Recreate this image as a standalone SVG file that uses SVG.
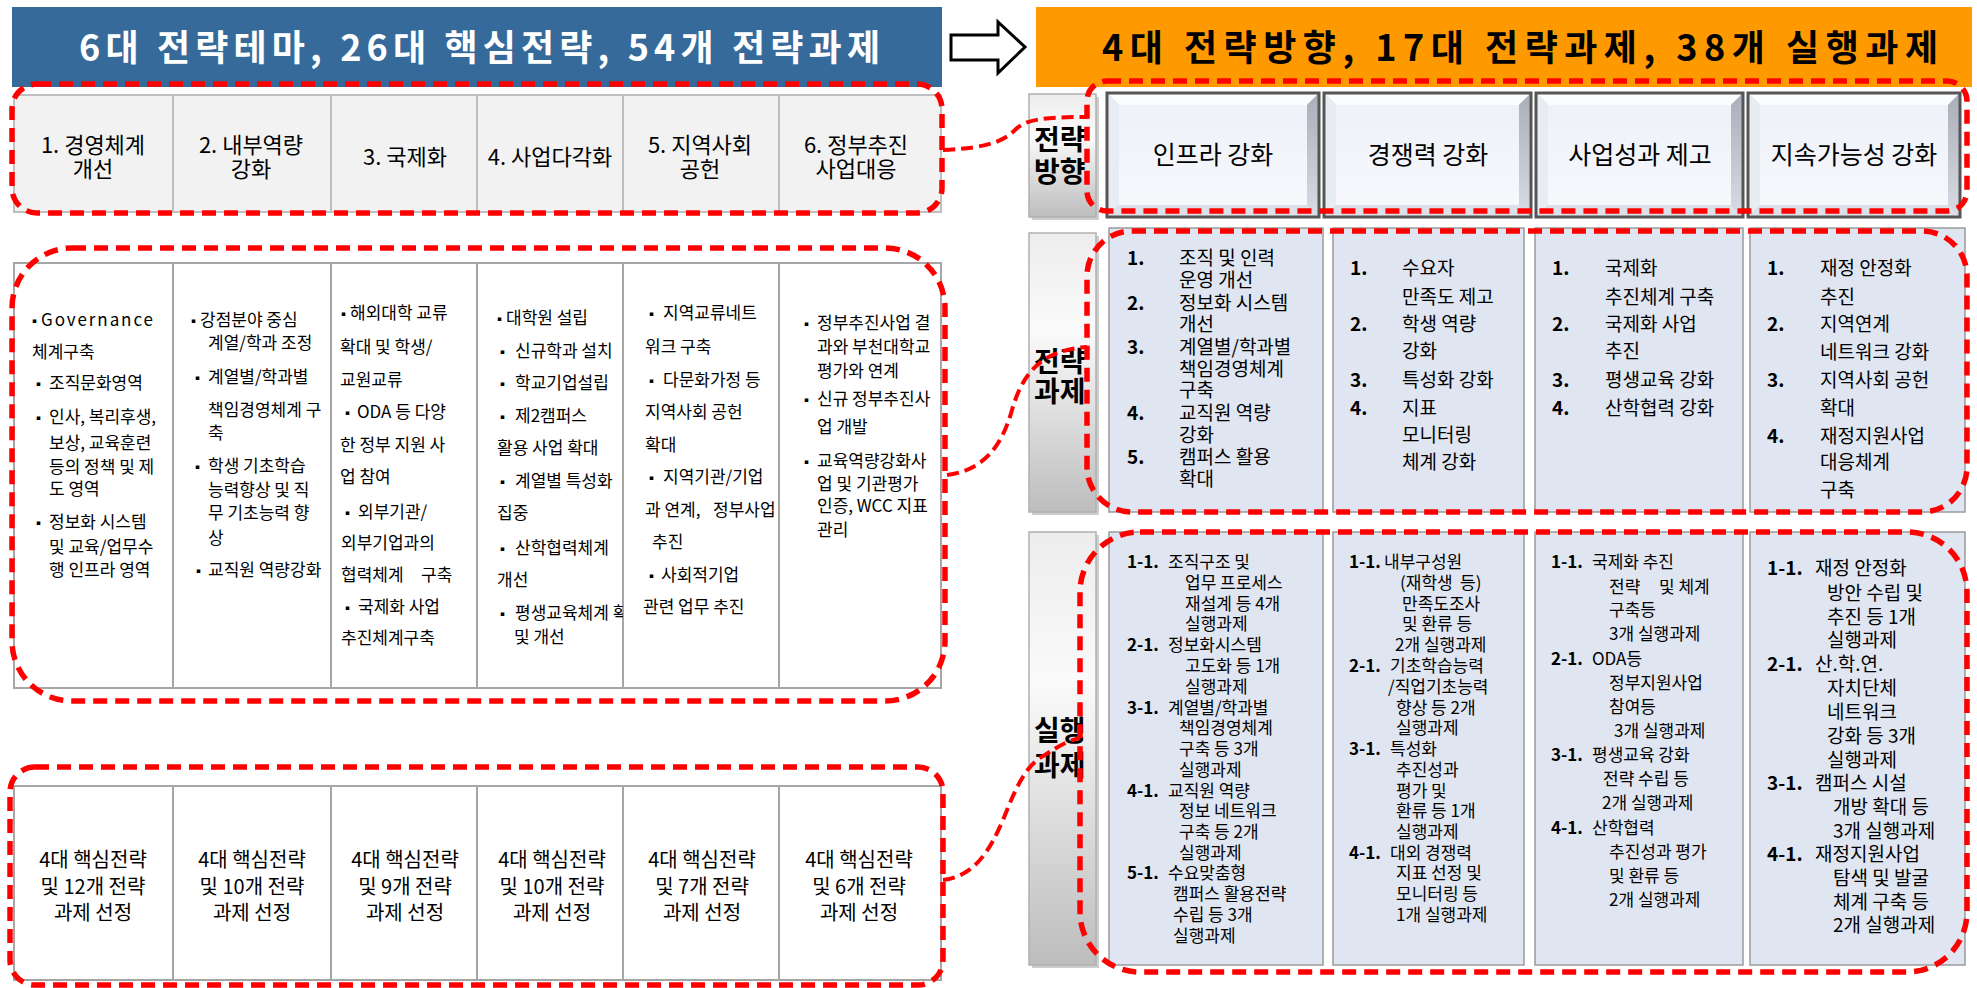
<svg xmlns="http://www.w3.org/2000/svg" width="1977" height="988" viewBox="0 0 1977 988">
<defs>
<style>
text{font-family:"Noto Sans CJK KR","Noto Sans",sans-serif;fill:#000}
.title{font-size:36px;font-weight:bold}
.theme{font-size:22px;text-anchor:middle}
.mid{font-size:17px}
.bul{font-size:13px}
.bot{font-size:20px;text-anchor:middle}
.lbl{font-size:28px;font-weight:bold}
.hdr{font-size:25px;text-anchor:middle}
.num{font-weight:bold}
.st{font-size:19px}
.ex{font-size:17px}
.ex4{font-size:19px}
.hl{fill:none;stroke:#FF0000;stroke-width:5.5;stroke-dasharray:14 8;stroke-linecap:butt}
.conn{fill:none;stroke:#FF0000;stroke-width:4;stroke-dasharray:12 6}
.cellL{fill:#F2F2F2;stroke:#BFBFBF;stroke-width:2}
.tbl{fill:#FFFFFF;stroke:#A6A6A6;stroke-width:2}
.div{stroke:#A6A6A6;stroke-width:2}
.cellB{fill:#DFE5F1;stroke:#9A9A9A;stroke-width:1.5}
.lab{fill:url(#labG);stroke:#B0B0B0;stroke-width:1.5}
.labS{fill:#9E9E9E;opacity:0.5}
.bvT{fill:#FBFCFE}
.bvL{fill:#E8ECF3}
.bvR{fill:url(#bvRG)}
.bvB{fill:#DCE0E8}
.face{fill:url(#faceG)}
.frame{fill:none;stroke:#555555;stroke-width:3}
</style>
<linearGradient id="labG" x1="0" y1="0" x2="0" y2="1">
<stop offset="0" stop-color="#EDEDED"/>
<stop offset="0.35" stop-color="#FAFAFA"/>
<stop offset="1" stop-color="#BDBDBD"/>
</linearGradient>
<linearGradient id="faceG" x1="0" y1="0" x2="0" y2="1">
<stop offset="0" stop-color="#EEF1F8"/>
<stop offset="1" stop-color="#F6F8FC"/>
</linearGradient>
<linearGradient id="bvRG" x1="0" y1="0" x2="0" y2="1">
<stop offset="0" stop-color="#A9AEB8"/>
<stop offset="1" stop-color="#D8DCE4"/>
</linearGradient>
<clipPath id="clip4"><rect x="477" y="263" width="146" height="425"/></clipPath>
</defs>

<!-- Title bars -->
<g id="left-title">
<rect x="12" y="7" width="930" height="80" fill="#366A9A"/>
<text class="title" x="79" y="61" textLength="801" lengthAdjust="spacing" style="fill:#FFFFFF">6대 전략테마, 26대 핵심전략, 54개 전략과제</text>
</g>
<g id="transition-arrow">
<polygon points="951,35 998,35 998,22 1025,47 998,73 998,60 951,60" fill="#FFFFFF" stroke="#000000" stroke-width="3" stroke-linejoin="miter"/>
</g>
<g id="right-title">
<rect x="1036" y="7" width="936" height="80" fill="#FF9900"/>
<text class="title" x="1102" y="61" textLength="836" lengthAdjust="spacing">4대 전략방향, 17대 전략과제, 38개 실행과제</text>
</g>

<!-- Left: 6 strategic themes -->
<g id="themes">
<g id="theme-1"><rect class="cellL" x="14" y="95" width="159" height="117"/><text class="theme" x="93" y="153">1. 경영체계</text><text class="theme" x="93" y="177">개선</text></g>
<g id="theme-2"><rect class="cellL" x="173" y="95" width="158" height="117"/><text class="theme" x="251" y="153">2. 내부역량</text><text class="theme" x="251" y="177">강화</text></g>
<g id="theme-3"><rect class="cellL" x="331" y="95" width="146" height="117"/><text class="theme" x="405" y="165">3. 국제화</text></g>
<g id="theme-4"><rect class="cellL" x="477" y="95" width="146" height="117"/><text class="theme" x="550" y="165">4. 사업다각화</text></g>
<g id="theme-5"><rect class="cellL" x="623" y="95" width="156" height="117"/><text class="theme" x="700" y="153">5. 지역사회</text><text class="theme" x="700" y="177">공헌</text></g>
<g id="theme-6"><rect class="cellL" x="779" y="95" width="162" height="117"/><text class="theme" x="856" y="153">6. 정부추진</text><text class="theme" x="856" y="177">사업대응</text></g>
</g>

<!-- Left: 26 core strategies table -->
<g id="core-strategies">
<rect class="tbl" x="14" y="263" width="927" height="425"/>
<line class="div" x1="173" y1="263" x2="173" y2="688"/>
<line class="div" x1="331" y1="263" x2="331" y2="688"/>
<line class="div" x1="477" y1="263" x2="477" y2="688"/>
<line class="div" x1="623" y1="263" x2="623" y2="688"/>
<line class="div" x1="779" y1="263" x2="779" y2="688"/>
<g id="core-1">
<text class="mid" y="326"><tspan class="bul" x="28">▪</tspan><tspan x="41" textLength="112" lengthAdjust="spacing">Governance</tspan></text>
<text class="mid" x="32" y="358">체계구축</text>
<text class="mid" y="389"><tspan class="bul" x="32">▪</tspan><tspan x="49">조직문화영역</tspan></text>
<text class="mid" y="423"><tspan class="bul" x="32">▪</tspan><tspan x="49">인사, 복리후생,</tspan></text>
<text class="mid" x="49" y="449">보상, 교육훈련</text>
<text class="mid" x="49" y="473">등의 정책 및 제</text>
<text class="mid" x="49" y="495">도 영역</text>
<text class="mid" y="528"><tspan class="bul" x="32">▪</tspan><tspan x="49">정보화 시스템</tspan></text>
<text class="mid" x="49" y="553">및 교육/업무수</text>
<text class="mid" x="49" y="576">행 인프라 영역</text>
</g>
<g id="core-2">
<text class="mid" y="326"><tspan class="bul" x="187">▪</tspan><tspan x="200">강점분야 중심</tspan></text>
<text class="mid" x="208" y="349">계열/학과 조정</text>
<text class="mid" y="383"><tspan class="bul" x="191">▪</tspan><tspan x="208">계열별/학과별</tspan></text>
<text class="mid" x="208" y="416">책임경영체계 구</text>
<text class="mid" x="208" y="439">축</text>
<text class="mid" y="472"><tspan class="bul" x="191">▪</tspan><tspan x="208">학생 기초학습</tspan></text>
<text class="mid" x="208" y="496">능력향상 및 직</text>
<text class="mid" x="208" y="519">무 기초능력 향</text>
<text class="mid" x="208" y="544">상</text>
<text class="mid" y="576"><tspan class="bul" x="192">▪</tspan><tspan x="208">교직원 역량강화</tspan></text>
</g>
<g id="core-3">
<text class="mid" y="319"><tspan class="bul" x="337">▪</tspan><tspan x="350">해외대학 교류</tspan></text>
<text class="mid" x="340" y="353">확대 및 학생/</text>
<text class="mid" x="340" y="386">교원교류</text>
<text class="mid" y="418"><tspan class="bul" x="341">▪</tspan><tspan x="357">ODA 등 다양</tspan></text>
<text class="mid" x="340" y="451">한 정부 지원 사</text>
<text class="mid" x="340" y="483">업 참여</text>
<text class="mid" y="518"><tspan class="bul" x="341">▪</tspan><tspan x="358">외부기관/</tspan></text>
<text class="mid" x="341" y="549">외부기업과의</text>
<text class="mid" x="341" y="581">협력체계<tspan x="421">구축</tspan></text>
<text class="mid" y="613"><tspan class="bul" x="341">▪</tspan><tspan x="358">국제화 사업</tspan></text>
<text class="mid" x="341" y="644">추진체계구축</text>
</g>
<g id="core-4" clip-path="url(#clip4)">
<text class="mid" y="324"><tspan class="bul" x="493">▪</tspan><tspan x="506">대학원 설립</tspan></text>
<text class="mid" y="357"><tspan class="bul" x="496">▪</tspan><tspan x="515">신규학과 설치</tspan></text>
<text class="mid" y="389"><tspan class="bul" x="496">▪</tspan><tspan x="515">학교기업설립</tspan></text>
<text class="mid" y="422"><tspan class="bul" x="496">▪</tspan><tspan x="515">제2캠퍼스</tspan></text>
<text class="mid" x="497" y="454">활용 사업 확대</text>
<text class="mid" y="487"><tspan class="bul" x="496">▪</tspan><tspan x="515">계열별 특성화</tspan></text>
<text class="mid" x="497" y="519">집중</text>
<text class="mid" y="554"><tspan class="bul" x="496">▪</tspan><tspan x="515">산학협력체계</tspan></text>
<text class="mid" x="497" y="586">개선</text>
<text class="mid" y="619"><tspan class="bul" x="496">▪</tspan><tspan x="515">평생교육체계 확</tspan></text>
<text class="mid" x="514" y="643">및 개선</text>
</g>
<g id="core-5">
<text class="mid" y="319"><tspan class="bul" x="645">▪</tspan><tspan x="663">지역교류네트</tspan></text>
<text class="mid" x="645" y="353">워크 구축</text>
<text class="mid" y="386"><tspan class="bul" x="645">▪</tspan><tspan x="663">다문화가정 등</tspan></text>
<text class="mid" x="645" y="418">지역사회 공헌</text>
<text class="mid" x="645" y="451">확대</text>
<text class="mid" y="483"><tspan class="bul" x="645">▪</tspan><tspan x="663">지역기관/기업</tspan></text>
<text class="mid" x="645" y="516">과 연계,<tspan x="713">정부사업</tspan></text>
<text class="mid" x="652" y="548">추진</text>
<text class="mid" y="581"><tspan class="bul" x="645">▪</tspan><tspan x="661">사회적기업</tspan></text>
<text class="mid" x="643" y="613">관련 업무 추진</text>
</g>
<g id="core-6">
<text class="mid" y="329"><tspan class="bul" x="800">▪</tspan><tspan x="817">정부추진사업 결</tspan></text>
<text class="mid" x="817" y="353">과와 부천대학교</text>
<text class="mid" x="817" y="377">평가와 연계</text>
<text class="mid" y="405"><tspan class="bul" x="800">▪</tspan><tspan x="817">신규 정부추진사</tspan></text>
<text class="mid" x="817" y="433">업 개발</text>
<text class="mid" y="467"><tspan class="bul" x="800">▪</tspan><tspan x="817">교육역량강화사</tspan></text>
<text class="mid" x="817" y="490">업 및 기관평가</text>
<text class="mid" x="817" y="512">인증, WCC 지표</text>
<text class="mid" x="817" y="536">관리</text>
</g>
</g>

<!-- Left: strategic tasks per theme -->
<g id="theme-tasks">
<rect class="tbl" x="14" y="786" width="927" height="194"/>
<line class="div" x1="173" y1="786" x2="173" y2="980"/>
<line class="div" x1="331" y1="786" x2="331" y2="980"/>
<line class="div" x1="477" y1="786" x2="477" y2="980"/>
<line class="div" x1="623" y1="786" x2="623" y2="980"/>
<line class="div" x1="779" y1="786" x2="779" y2="980"/>
<g id="task-1"><text class="bot" x="93" y="867">4대 핵심전략</text><text class="bot" x="93" y="894">및 12개 전략</text><text class="bot" x="93" y="920">과제 선정</text></g>
<g id="task-2"><text class="bot" x="252" y="867">4대 핵심전략</text><text class="bot" x="252" y="894">및 10개 전략</text><text class="bot" x="252" y="920">과제 선정</text></g>
<g id="task-3"><text class="bot" x="405" y="867">4대 핵심전략</text><text class="bot" x="405" y="894">및 9개 전략</text><text class="bot" x="405" y="920">과제 선정</text></g>
<g id="task-4"><text class="bot" x="552" y="867">4대 핵심전략</text><text class="bot" x="552" y="894">및 10개 전략</text><text class="bot" x="552" y="920">과제 선정</text></g>
<g id="task-5"><text class="bot" x="702" y="867">4대 핵심전략</text><text class="bot" x="702" y="894">및 7개 전략</text><text class="bot" x="702" y="920">과제 선정</text></g>
<g id="task-6"><text class="bot" x="859" y="867">4대 핵심전략</text><text class="bot" x="859" y="894">및 6개 전략</text><text class="bot" x="859" y="920">과제 선정</text></g>
</g>

<!-- Right: row labels -->
<g id="label-direction">
<rect class="labS" x="1032" y="97" width="67" height="123"/>
<rect class="lab" x="1029" y="94" width="67" height="123"/>
<text class="lbl" x="1034" y="150">전략</text><text class="lbl" x="1034" y="182">방향</text>
</g>
<g id="label-task">
<rect class="labS" x="1032" y="236" width="67" height="279"/>
<rect class="lab" x="1029" y="233" width="67" height="279"/>
<text class="lbl" x="1034" y="372">전략</text><text class="lbl" x="1034" y="402">과제</text>
</g>
<g id="label-action">
<rect class="labS" x="1032" y="535" width="67" height="433"/>
<rect class="lab" x="1029" y="532" width="67" height="433"/>
<text class="lbl" x="1034" y="741">실행</text><text class="lbl" x="1034" y="776">과제</text>
</g>

<!-- Right: 4 strategic directions -->
<g id="dir-1" transform="translate(1107,93)">
<rect x="0" y="0" width="212" height="124" fill="#C5CAD4"/>
<polygon class="bvT" points="0,0 212,0 200,12 12,12"/>
<polygon class="bvL" points="0,0 12,12 12,112 0,124"/>
<polygon class="bvR" points="212,0 212,124 200,112 200,12"/>
<polygon class="bvB" points="0,124 212,124 200,112 12,112"/>
<rect class="face" x="12" y="12" width="188" height="100"/>
<rect class="frame" x="0" y="0" width="212" height="124"/>
<text class="hdr" x="106" y="71">인프라 강화</text>
</g>
<g id="dir-2" transform="translate(1324,93)">
<rect x="0" y="0" width="207" height="124" fill="#C5CAD4"/>
<polygon class="bvT" points="0,0 207,0 195,12 12,12"/>
<polygon class="bvL" points="0,0 12,12 12,112 0,124"/>
<polygon class="bvR" points="207,0 207,124 195,112 195,12"/>
<polygon class="bvB" points="0,124 207,124 195,112 12,112"/>
<rect class="face" x="12" y="12" width="183" height="100"/>
<rect class="frame" x="0" y="0" width="207" height="124"/>
<text class="hdr" x="104" y="71">경쟁력 강화</text>
</g>
<g id="dir-3" transform="translate(1536,93)">
<rect x="0" y="0" width="207" height="124" fill="#C5CAD4"/>
<polygon class="bvT" points="0,0 207,0 195,12 12,12"/>
<polygon class="bvL" points="0,0 12,12 12,112 0,124"/>
<polygon class="bvR" points="207,0 207,124 195,112 195,12"/>
<polygon class="bvB" points="0,124 207,124 195,112 12,112"/>
<rect class="face" x="12" y="12" width="183" height="100"/>
<rect class="frame" x="0" y="0" width="207" height="124"/>
<text class="hdr" x="104" y="71">사업성과 제고</text>
</g>
<g id="dir-4" transform="translate(1748,93)">
<rect x="0" y="0" width="212" height="124" fill="#C5CAD4"/>
<polygon class="bvT" points="0,0 212,0 200,12 12,12"/>
<polygon class="bvL" points="0,0 12,12 12,112 0,124"/>
<polygon class="bvR" points="212,0 212,124 200,112 200,12"/>
<polygon class="bvB" points="0,124 212,124 200,112 12,112"/>
<rect class="face" x="12" y="12" width="188" height="100"/>
<rect class="frame" x="0" y="0" width="212" height="124"/>
<text class="hdr" x="106" y="71">지속가능성 강화</text>
</g>

<!-- Right: 17 strategic tasks -->
<g id="stask-1">
<rect class="cellB" x="1109" y="228" width="214" height="284"/>
<text class="st" y="265"><tspan class="num" x="1127">1.</tspan><tspan x="1179">조직 및 인력</tspan></text>
<text class="st" x="1179" y="287">운영 개선</text>
<text class="st" y="310"><tspan class="num" x="1127">2.</tspan><tspan x="1179">정보화 시스템</tspan></text>
<text class="st" x="1179" y="331">개선</text>
<text class="st" y="354"><tspan class="num" x="1127">3.</tspan><tspan x="1179">계열별/학과별</tspan></text>
<text class="st" x="1179" y="376">책임경영체계</text>
<text class="st" x="1179" y="397">구축</text>
<text class="st" y="420"><tspan class="num" x="1127">4.</tspan><tspan x="1179">교직원 역량</tspan></text>
<text class="st" x="1179" y="442">강화</text>
<text class="st" y="464"><tspan class="num" x="1127">5.</tspan><tspan x="1179">캠퍼스 활용</tspan></text>
<text class="st" x="1179" y="486">확대</text>
</g>
<g id="stask-2">
<rect class="cellB" x="1333" y="228" width="191" height="284"/>
<text class="st" y="275"><tspan class="num" x="1350">1.</tspan><tspan x="1402">수요자</tspan></text>
<text class="st" x="1402" y="304">만족도 제고</text>
<text class="st" y="331"><tspan class="num" x="1350">2.</tspan><tspan x="1402">학생 역량</tspan></text>
<text class="st" x="1402" y="358">강화</text>
<text class="st" y="387"><tspan class="num" x="1350">3.</tspan><tspan x="1402">특성화 강화</tspan></text>
<text class="st" y="415"><tspan class="num" x="1350">4.</tspan><tspan x="1402">지표</tspan></text>
<text class="st" x="1402" y="442">모니터링</text>
<text class="st" x="1402" y="469">체계 강화</text>
</g>
<g id="stask-3">
<rect class="cellB" x="1535" y="228" width="208" height="284"/>
<text class="st" y="275"><tspan class="num" x="1552">1.</tspan><tspan x="1605">국제화</tspan></text>
<text class="st" x="1605" y="304">추진체계 구축</text>
<text class="st" y="331"><tspan class="num" x="1552">2.</tspan><tspan x="1605">국제화 사업</tspan></text>
<text class="st" x="1605" y="358">추진</text>
<text class="st" y="387"><tspan class="num" x="1552">3.</tspan><tspan x="1605">평생교육 강화</tspan></text>
<text class="st" y="415"><tspan class="num" x="1552">4.</tspan><tspan x="1605">산학협력 강화</tspan></text>
</g>
<g id="stask-4">
<rect class="cellB" x="1750" y="228" width="215" height="284"/>
<text class="st" y="275"><tspan class="num" x="1767">1.</tspan><tspan x="1820">재정 안정화</tspan></text>
<text class="st" x="1820" y="304">추진</text>
<text class="st" y="331"><tspan class="num" x="1767">2.</tspan><tspan x="1820">지역연계</tspan></text>
<text class="st" x="1820" y="359">네트워크 강화</text>
<text class="st" y="387"><tspan class="num" x="1767">3.</tspan><tspan x="1820">지역사회 공헌</tspan></text>
<text class="st" x="1820" y="415">확대</text>
<text class="st" y="443"><tspan class="num" x="1767">4.</tspan><tspan x="1820">재정지원사업</tspan></text>
<text class="st" x="1820" y="469">대응체계</text>
<text class="st" x="1820" y="497">구축</text>
</g>

<!-- Right: 38 action tasks -->
<g id="action-1">
<rect class="cellB" x="1109" y="532" width="214" height="433"/>
<text class="ex" y="568"><tspan class="num" x="1127">1-1.</tspan><tspan x="1168">조직구조 및</tspan></text>
<text class="ex" x="1185" y="589">업무 프로세스</text>
<text class="ex" x="1185" y="610">재설계 등 4개</text>
<text class="ex" x="1185" y="630">실행과제</text>
<text class="ex" y="651"><tspan class="num" x="1127">2-1.</tspan><tspan x="1168">정보화시스템</tspan></text>
<text class="ex" x="1185" y="672">고도화 등 1개</text>
<text class="ex" x="1185" y="693">실행과제</text>
<text class="ex" y="714"><tspan class="num" x="1127">3-1.</tspan><tspan x="1168">계열별/학과별</tspan></text>
<text class="ex" x="1179" y="734">책임경영체계</text>
<text class="ex" x="1179" y="755">구축 등 3개</text>
<text class="ex" x="1179" y="776">실행과제</text>
<text class="ex" y="797"><tspan class="num" x="1127">4-1.</tspan><tspan x="1168">교직원 역량</tspan></text>
<text class="ex" x="1179" y="817">정보 네트워크</text>
<text class="ex" x="1179" y="838">구축 등 2개</text>
<text class="ex" x="1179" y="859">실행과제</text>
<text class="ex" y="879"><tspan class="num" x="1127">5-1.</tspan><tspan x="1168">수요맞춤형</tspan></text>
<text class="ex" x="1173" y="900">캠퍼스 활용전략</text>
<text class="ex" x="1173" y="921">수립 등 3개</text>
<text class="ex" x="1173" y="942">실행과제</text>
</g>
<g id="action-2">
<rect class="cellB" x="1333" y="532" width="191" height="433"/>
<text class="ex" y="568"><tspan class="num" x="1349">1-1.</tspan><tspan x="1384">내부구성원</tspan></text>
<text class="ex" x="1400" y="589">(재학생<tspan x="1460">등)</tspan></text>
<text class="ex" x="1402" y="610">만족도조사</text>
<text class="ex" x="1402" y="630">및 환류 등</text>
<text class="ex" x="1395" y="651">2개 실행과제</text>
<text class="ex" y="672"><tspan class="num" x="1349">2-1.</tspan><tspan x="1390">기초학습능력</tspan></text>
<text class="ex" x="1388" y="693">/직업기초능력</text>
<text class="ex" x="1396" y="714">향상 등 2개</text>
<text class="ex" x="1396" y="734">실행과제</text>
<text class="ex" y="755"><tspan class="num" x="1349">3-1.</tspan><tspan x="1390">특성화</tspan></text>
<text class="ex" x="1396" y="776">추진성과</text>
<text class="ex" x="1396" y="797">평가 및</text>
<text class="ex" x="1396" y="817">환류 등 1개</text>
<text class="ex" x="1396" y="838">실행과제</text>
<text class="ex" y="859"><tspan class="num" x="1349">4-1.</tspan><tspan x="1390">대외 경쟁력</tspan></text>
<text class="ex" x="1396" y="879">지표 선정 및</text>
<text class="ex" x="1396" y="900">모니터링 등</text>
<text class="ex" x="1396" y="921">1개 실행과제</text>
</g>
<g id="action-3">
<rect class="cellB" x="1535" y="532" width="208" height="433"/>
<text class="ex" y="568"><tspan class="num" x="1551">1-1.</tspan><tspan x="1592">국제화 추진</tspan></text>
<text class="ex" x="1609" y="593">전략<tspan x="1659">및 체계</tspan></text>
<text class="ex" x="1609" y="616">구축등</text>
<text class="ex" x="1609" y="640">3개 실행과제</text>
<text class="ex" y="665"><tspan class="num" x="1551">2-1.</tspan><tspan x="1592">ODA등</tspan></text>
<text class="ex" x="1609" y="689">정부지원사업</text>
<text class="ex" x="1609" y="713">참여등</text>
<text class="ex" x="1614" y="737">3개 실행과제</text>
<text class="ex" y="761"><tspan class="num" x="1551">3-1.</tspan><tspan x="1592">평생교육 강화</tspan></text>
<text class="ex" x="1603" y="785">전략 수립 등</text>
<text class="ex" x="1602" y="809">2개 실행과제</text>
<text class="ex" y="834"><tspan class="num" x="1551">4-1.</tspan><tspan x="1592">산학협력</tspan></text>
<text class="ex" x="1609" y="858">추진성과 평가</text>
<text class="ex" x="1609" y="882">및 환류 등</text>
<text class="ex" x="1609" y="906">2개 실행과제</text>
</g>
<g id="action-4">
<rect class="cellB" x="1750" y="532" width="215" height="433"/>
<text class="ex4" y="575"><tspan class="num" x="1767">1-1.</tspan><tspan x="1815">재정 안정화</tspan></text>
<text class="ex4" x="1827" y="600">방안 수립 및</text>
<text class="ex4" x="1827" y="624">추진 등 1개</text>
<text class="ex4" x="1827" y="647">실행과제</text>
<text class="ex4" y="671"><tspan class="num" x="1767">2-1.</tspan><tspan x="1815">산.학.연.</tspan></text>
<text class="ex4" x="1827" y="695">자치단체</text>
<text class="ex4" x="1827" y="719">네트워크</text>
<text class="ex4" x="1827" y="743">강화 등 3개</text>
<text class="ex4" x="1827" y="767">실행과제</text>
<text class="ex4" y="790"><tspan class="num" x="1767">3-1.</tspan><tspan x="1815">캠퍼스 시설</tspan></text>
<text class="ex4" x="1833" y="814">개방 확대 등</text>
<text class="ex4" x="1833" y="838">3개 실행과제</text>
<text class="ex4" y="861"><tspan class="num" x="1767">4-1.</tspan><tspan x="1815">재정지원사업</tspan></text>
<text class="ex4" x="1833" y="885">탐색 및 발굴</text>
<text class="ex4" x="1833" y="909">체계 구축 등</text>
<text class="ex4" x="1833" y="932">2개 실행과제</text>
</g>

<!-- Highlight frames -->
<g id="highlights">
<rect class="hl" x="12" y="84" width="930" height="129" rx="25" ry="25"/>
<rect class="hl" x="12" y="248" width="933" height="453" rx="60" ry="60"/>
<rect class="hl" x="10" y="767" width="933" height="218" rx="25" ry="25"/>
<rect class="hl" x="1087" y="81" width="880" height="130" rx="20" ry="20"/>
<rect class="hl" x="1087" y="231" width="880" height="281" rx="45" ry="45"/>
<rect class="hl" x="1080" y="532" width="887" height="440" rx="60" ry="60"/>
</g>

<!-- Connectors -->
<g id="connectors">
<path class="conn" d="M943,150 C990,148 1005,140 1015,130 C1025,120 1040,117 1087,117"/>
<path class="conn" d="M947,475 C985,470 1002,445 1012,410 C1022,375 1040,350 1087,347"/>
<path class="conn" d="M943,880 C975,876 990,850 1003,820 C1015,790 1025,765 1045,755 C1060,745 1070,740 1080,738"/>
</g>
</svg>
